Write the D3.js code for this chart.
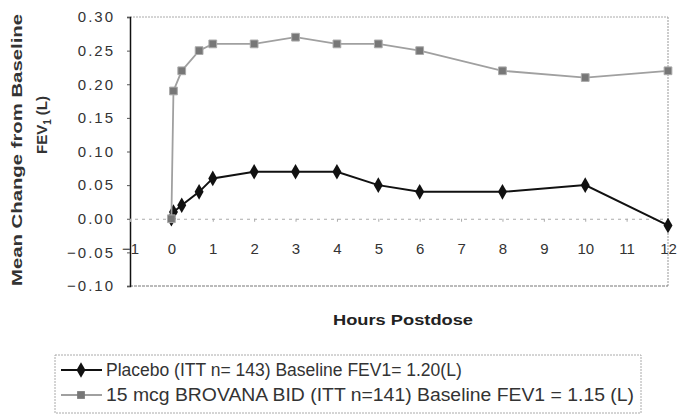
<!DOCTYPE html>
<html>
<head>
<meta charset="utf-8">
<script src="https://cdn.jsdelivr.net/npm/d3@7"></script>
<style>
  html, body { margin: 0; padding: 0; background: #fff; }
  svg { display: block; font-family: "Liberation Sans", Arial, sans-serif; }
</style>
</head>
<body>
<svg id="chart" width="685" height="417"></svg>
<script>
// ---- data ----
const hours = [0, 0.05, 0.25, 0.67, 1, 2, 3, 4, 5, 6, 8, 10, 12];
const placebo = [0, 0.01, 0.02, 0.04, 0.06, 0.07, 0.07, 0.07, 0.05, 0.04, 0.04, 0.05, -0.01];
const brovana = [0, 0.19, 0.22, 0.25, 0.26, 0.26, 0.27, 0.26, 0.26, 0.25, 0.22, 0.21, 0.22];
const xTicks = [-1, 0, 1, 2, 3, 4, 5, 6, 7, 8, 9, 10, 11, 12];
const yTicks = [-0.10, -0.05, 0.00, 0.05, 0.10, 0.15, 0.20, 0.25, 0.30];
const seriesNames = [
  "Placebo (ITT n= 143) Baseline FEV1= 1.20(L)",
  "15 mcg BROVANA BID (ITT n=141) Baseline FEV1 = 1.15 (L)"
];

const svg = d3.select("#chart");
const x = d3.scaleLinear().domain([-1, 12]).range([130, 668]);
const y = d3.scaleLinear().domain([-0.10, 0.30]).range([286, 17]);

// plot frame
svg.append("line").attr("x1", x(-1)).attr("x2", x(12)).attr("y1", y(0.30)).attr("y2", y(0.30))
  .attr("stroke", "#aaa").attr("stroke-dasharray", "2,1");
svg.append("line").attr("x1", x(12)).attr("x2", x(12)).attr("y1", y(0.30)).attr("y2", y(-0.10))
  .attr("stroke", "#999").attr("stroke-dasharray", "2,1");
svg.append("line").attr("x1", x(-1)).attr("x2", x(12)).attr("y1", y(-0.10)).attr("y2", y(-0.10))
  .attr("stroke", "#777").attr("stroke-dasharray", "3,1");

// y axis
const yAxis = svg.append("g").attr("transform", `translate(${x(-1)},0)`)
  .call(d3.axisLeft(y).tickValues(yTicks).tickFormat(d3.format(".2f")).tickSize(3).tickPadding(12));
yAxis.select(".domain").attr("stroke", "#111").attr("stroke-width", 1.5);
yAxis.selectAll(".tick line").attr("stroke", "#555");
yAxis.selectAll(".tick text").attr("font-size", 15).attr("fill", "#333")
  .attr("letter-spacing", "2px").attr("font-family", "Liberation Sans, Arial, sans-serif");

// x axis at y = 0
const xAxis = svg.append("g").attr("transform", `translate(0,${y(0)})`)
  .call(d3.axisBottom(x).tickValues(xTicks).tickFormat(d3.format("d")).tickSize(3).tickPadding(22));
xAxis.select(".domain").attr("stroke", "#aaa").attr("stroke-dasharray", "3,4");
xAxis.selectAll(".tick line").attr("stroke", "#aaa");
xAxis.selectAll(".tick text").attr("font-size", 15).attr("fill", "#333")
  .attr("font-family", "Liberation Sans, Arial, sans-serif");

// axis titles
svg.append("text").attr("transform", `translate(22,150) rotate(-90)`)
  .attr("text-anchor", "middle").attr("font-size", 15).attr("font-weight", "bold").attr("fill", "#333")
  .attr("textLength", 272).attr("lengthAdjust", "spacingAndGlyphs")
  .text("Mean Change from Baseline");
const fev = svg.append("text").attr("transform", `translate(47,125) rotate(-90)`)
  .attr("text-anchor", "middle").attr("font-size", 15).attr("font-weight", "bold").attr("fill", "#333");
fev.append("tspan").text("FEV");
fev.append("tspan").attr("font-size", 10).attr("dy", 4).text("1");
fev.append("tspan").attr("dy", -4).text(" (L)");

svg.append("text").attr("x", 403).attr("y", 325).attr("text-anchor", "middle")
  .attr("font-size", 15).attr("font-weight", "bold").attr("fill", "#222")
  .attr("textLength", 140).attr("lengthAdjust", "spacingAndGlyphs")
  .text("Hours Postdose");

// series
const line = d3.line().x(d => x(d[0])).y(d => y(d[1]));
const placeboPts = hours.map((h, i) => [h, placebo[i]]);
const brovanaPts = hours.map((h, i) => [h, brovana[i]]);

const diamond = d3.symbol().type(d3.symbolDiamond).size(70);
const square = d3.symbol().type(d3.symbolSquare).size(60);

svg.append("path").datum(placeboPts).attr("d", line).attr("fill", "none")
  .attr("stroke", "#111").attr("stroke-width", 2);
svg.append("g").selectAll("path").data(placeboPts).join("path")
  .attr("d", diamond).attr("transform", d => `translate(${x(d[0])},${y(d[1])})`)
  .attr("fill", "#111");

svg.append("path").datum(brovanaPts).attr("d", line).attr("fill", "none")
  .attr("stroke", "#a0a0a0").attr("stroke-width", 1.8);
svg.append("g").selectAll("path").data(brovanaPts).join("path")
  .attr("d", square).attr("transform", d => `translate(${x(d[0])},${y(d[1])})`)
  .attr("fill", "#777").attr("stroke", "#aaa").attr("stroke-width", 1);

// legend
const lg = svg.append("g");
lg.append("rect").attr("x", 55).attr("y", 355).attr("width", 586).attr("height", 58)
  .attr("fill", "none").attr("stroke", "#aaa").attr("stroke-dasharray", "2,1");
const rows = [
  { name: seriesNames[0], color: "#111", sym: diamond, fill: "#111", sw: 2, yy: 370 },
  { name: seriesNames[1], color: "#a0a0a0", sym: square, fill: "#777", sw: 1.8, yy: 395, len: 528 }
];
rows.forEach(r => {
  lg.append("line").attr("x1", 61).attr("x2", 102).attr("y1", r.yy).attr("y2", r.yy)
    .attr("stroke", r.color).attr("stroke-width", r.sw);
  lg.append("path").attr("d", r.sym).attr("transform", `translate(81,${r.yy})`).attr("fill", r.fill);
  const t = lg.append("text").attr("x", 106).attr("y", r.yy + 6).attr("font-size", 17.5).attr("fill", "#333")
    .text(r.name);
  if (r.len) t.attr("textLength", r.len).attr("lengthAdjust", "spacingAndGlyphs");
});
</script>
</body>
</html>
